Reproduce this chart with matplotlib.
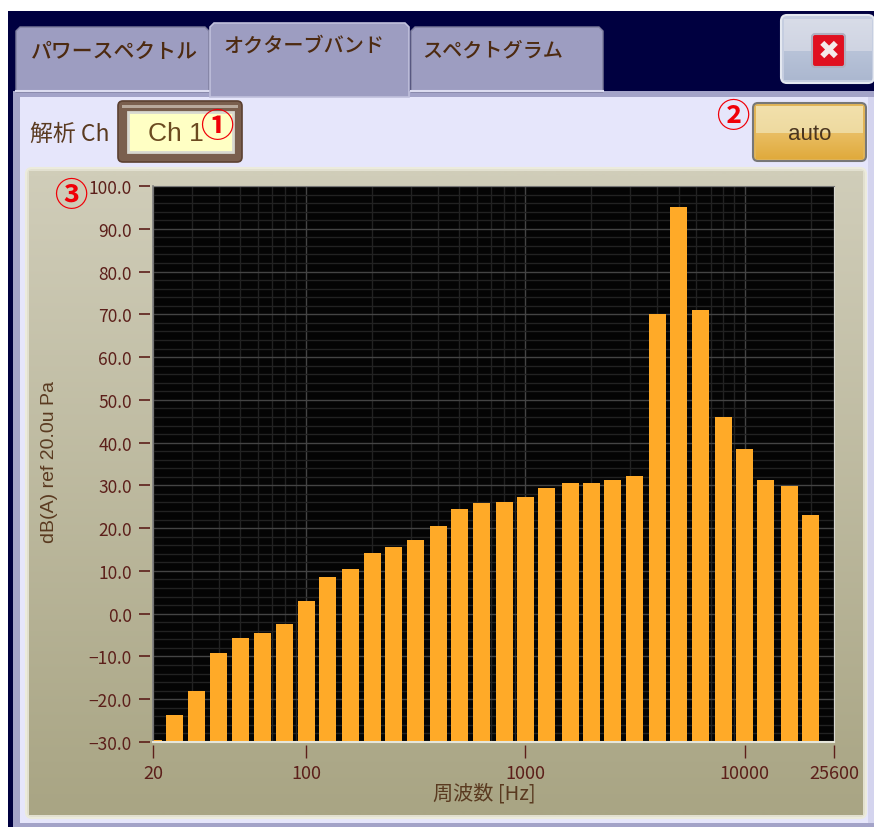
import numpy as np
import matplotlib
matplotlib.use("Agg")
import matplotlib.pyplot as plt
from matplotlib.patches import FancyBboxPatch, Rectangle, Polygon
from matplotlib.ticker import NullFormatter, FixedLocator, FixedFormatter

JP = ["Noto Sans CJK JP", "DejaVu Sans"]
NUM = ["Liberation Sans"]
plt.rcParams["font.family"] = JP

freqs = [20, 25, 31.5, 40, 50, 63, 80, 100, 125, 160, 200, 250, 315, 400, 500, 630, 800,
         1000, 1250, 1600, 2000, 2500, 3150, 4000, 5000, 6300, 8000, 10000, 12500, 16000, 20000]
levels = [-29.5, -23.7, -18.0, -9.3, -5.8, -4.5, -2.5, 3.0, 8.6, 10.5, 14.2, 15.5, 17.3, 20.5,
          24.5, 25.8, 26.2, 27.4, 29.3, 30.5, 30.5, 31.3, 32.2, 70.0, 95.0, 71.0, 46.0, 38.5,
          31.3, 29.8, 23.0]
x_ticks = [20, 100, 1000, 10000, 25600]
y_ticks = list(range(-30, 101, 10))
tabs = ["パワースペクトル", "オクターブバンド", "スペクトグラム"]

W, H = 874, 828
BROWN = "#5c1f1a"
TXT = "#5a3a20"
RED = "#f00008"
fig = plt.figure(figsize=(W / 100, H / 100), dpi=100, facecolor="white")
bg = fig.add_axes([0, 0, 1, 1], zorder=0)
bg.set_xlim(0, W); bg.set_ylim(H, 0); bg.axis("off")


def grad(x0, y0, x1, y1, top, bottom, z=2):
    a = np.array(matplotlib.colors.to_rgb(top)); b = np.array(matplotlib.colors.to_rgb(bottom))
    t = np.linspace(0, 1, 64)[:, None, None]
    bg.imshow(a * (1 - t) + b * t, extent=[x0, x1, y1, y0], aspect="auto", zorder=z, interpolation="bilinear")
    bg.set_xlim(0, W); bg.set_ylim(H, 0)


def rbox(x0, y0, x1, y1, r=4, **kw):
    p = FancyBboxPatch((x0 + r, y0 + r), x1 - x0 - 2 * r, y1 - y0 - 2 * r,
                       boxstyle=f"round,pad={r},rounding_size={r}", **kw)
    bg.add_patch(p)
    return p


# window
bg.add_patch(Rectangle((8, 12), W - 8, H - 12, fc="#000040", ec="none", zorder=1))
bg.add_patch(Rectangle((13, 92), W - 13, H - 92, fc="#a3a3c8", ec="none", zorder=1.2))
bg.add_patch(Rectangle((20, 98), W - 21, H - 98 - 4, fc="#e6e6fb", ec="none", zorder=1.4))
bg.add_patch(Rectangle((868, 98), 6, H - 102, fc="#d4d4ee", ec="none", zorder=1.45))

# tabs
for (x0, x1, y0) in [(16, 209, 28), (411, 603, 28)]:
    bg.add_patch(Polygon([(x0, 93), (x0, y0 + 4), (x0 + 4, y0), (x1 - 4, y0), (x1, y0 + 4), (x1, 93)],
                         closed=True, fc="#9d9dc1", ec="#7d7d9d", lw=1, zorder=1.6))
bg.add_patch(Polygon([(210, 98), (210, 28), (214, 24), (405, 24), (409, 28), (409, 98)],
                     closed=True, fc="#9d9dc1", ec="#c0c0dc", lw=1.2, zorder=1.7))
bg.plot([16, 209], [92, 92], color="#dcdcf0", lw=1.5, zorder=1.65)
bg.plot([411, 603], [92, 92], color="#dcdcf0", lw=1.5, zorder=1.65)
bg.text(114.5, 52, tabs[0], fontsize=15, color="#4d2a10", ha="center", va="center", fontweight="medium", zorder=3)
bg.text(304, 46, tabs[1], fontsize=14.5, color="#4d2a10", ha="center", va="center", fontweight="medium", zorder=3)
bg.text(493, 51, tabs[2], fontsize=14.5, color="#4d2a10", ha="center", va="center", fontweight="medium", zorder=3)

# close button
rbox(781, 16, 874, 84, r=6, fc="#c5cde0", ec="#e4e8f0", lw=1.5, zorder=2)
grad(784, 20, 872, 52, "#d8dce8", "#cfd4e2", 2.1)
grad(784, 52, 872, 81, "#b8c3d8", "#acb8d0", 2.1)
rbox(812, 35, 845, 68, r=3, fc="#e01020", ec="#b0b0c0", lw=1.5, zorder=2.3)
bg.text(828.5, 51.5, "✖", fontsize=19, color="#f4eaea", ha="center", va="center", family="DejaVu Sans", zorder=3)

# channel selector
bg.text(69.5, 134, "解析 Ch", fontsize=16.5, color=TXT, ha="center", va="center", zorder=3)
rbox(118, 102, 242, 163, r=5, fc="#7a5f4e", ec="#5b4030", lw=1.2, zorder=2)
bg.add_patch(Rectangle((122, 106), 116, 3, fc="#b8a99c", ec="none", zorder=2.1))
bg.add_patch(Rectangle((128, 113), 105, 40, fc="#ffffc4", ec="#d8d8d0", lw=2, zorder=2.2))
bg.text(175.5, 134, "Ch 1", fontsize=19, color="#6b4a20", ha="center", va="center", family=NUM, zorder=3)
bg.text(217, 128, "①", fontsize=24, color=RED, ha="center", va="center", fontweight="bold", zorder=4)

# auto button
rbox(753, 104, 866, 162, r=5, fc="#e2b557", ec="#777777", lw=1.5, zorder=2)
grad(756, 107, 863, 134, "#f2e0ac", "#eeda9f", 2.1)
grad(756, 134, 863, 160, "#e9be63", "#e0aa3c", 2.1)
bg.text(810, 135, "auto", fontsize=16, color="#4a3520", ha="center", va="center", family=NUM, zorder=3)
bg.text(733, 118, "②", fontsize=24, color=RED, ha="center", va="center", fontweight="bold", zorder=4)

# plot panel
rbox(26, 169, 866, 819, r=6, fc="#e2e0d0", ec="#ecebdc", lw=1.5, zorder=2)
grad(29, 172, 863, 816, "#d0cdb9", "#a9a584", 2.1)
bg.text(71, 197, "③", fontsize=24, color=RED, ha="center", va="center", fontweight="bold", zorder=4)

# chart
ax = fig.add_axes([153 / W, 1 - 743 / H, (834 - 153) / W, (743 - 187) / H], zorder=5)
ax.set_facecolor("#040404")
ax.set_xscale("log")
ax.set_xlim(20, 25600)
ax.set_ylim(-30, 100)

half = 10 ** (8.5 / 219)
f = np.array(freqs, dtype=float)
ax.bar(f / half, np.array(levels) + 30, width=f * half - f / half, bottom=-30, align="edge",
       color="#ffaa28", edgecolor="none", zorder=3)

ax.xaxis.set_major_locator(FixedLocator(x_ticks))
ax.xaxis.set_minor_locator(FixedLocator([m * 10 ** e for e in range(1, 5) for m in range(2, 10)
                                         if 20 < m * 10 ** e < 25600]))
ax.xaxis.set_major_formatter(FixedFormatter([str(v) for v in x_ticks]))
ax.xaxis.set_minor_formatter(NullFormatter())
ax.yaxis.set_major_locator(FixedLocator(y_ticks))
ax.yaxis.set_minor_locator(FixedLocator([v for v in range(-30, 101, 2) if v % 10]))
ax.set_yticklabels([f"{v:.1f}".replace("-", "−") for v in y_ticks])

ax.grid(True, which="major", axis="both", color="#444444", lw=1, zorder=1)
ax.grid(True, which="minor", axis="both", color="#222222", lw=1, zorder=1)
ax.set_axisbelow(True)
ax.tick_params(axis="x", which="major", length=9, width=1, color=BROWN, direction="out", pad=5, labelsize=13, labelcolor=BROWN)
ax.tick_params(axis="y", which="major", length=8, width=1.2, color=BROWN, direction="out", pad=5, labelsize=12.5, labelcolor=BROWN)
ax.tick_params(which="minor", length=0)
for lab in ax.get_xticklabels() + ax.get_yticklabels():
    lab.set_family(NUM)

# ticks sit 3 px clear of the plot frame, as in the reference
GAP = 3 * 72 / 100
for side in ("left", "bottom"):
    ax.spines[side].set_position(("outward", GAP))
    ax.spines[side].set_visible(False)
ax.spines["top"].set_color("#777777"); ax.spines["right"].set_color("#d8d8d0")
ax.plot([0, 0], [0, 1], transform=ax.transAxes, color="#808080", lw=1.2, clip_on=False, zorder=6)
ax.plot([0, 1], [0, 0], transform=ax.transAxes, color="#e6e6da", lw=1.5, clip_on=False, zorder=6)

bg.text(484, 794, "周波数 [Hz]", fontsize=14.5, color=TXT, ha="center", va="center", zorder=6)
bg.text(50, 462, "dB(A) ref 20.0u Pa", fontsize=14, color=TXT, ha="center", va="center",
        rotation=90, family=NUM, zorder=6)

fig.savefig("out.png", dpi=100)
